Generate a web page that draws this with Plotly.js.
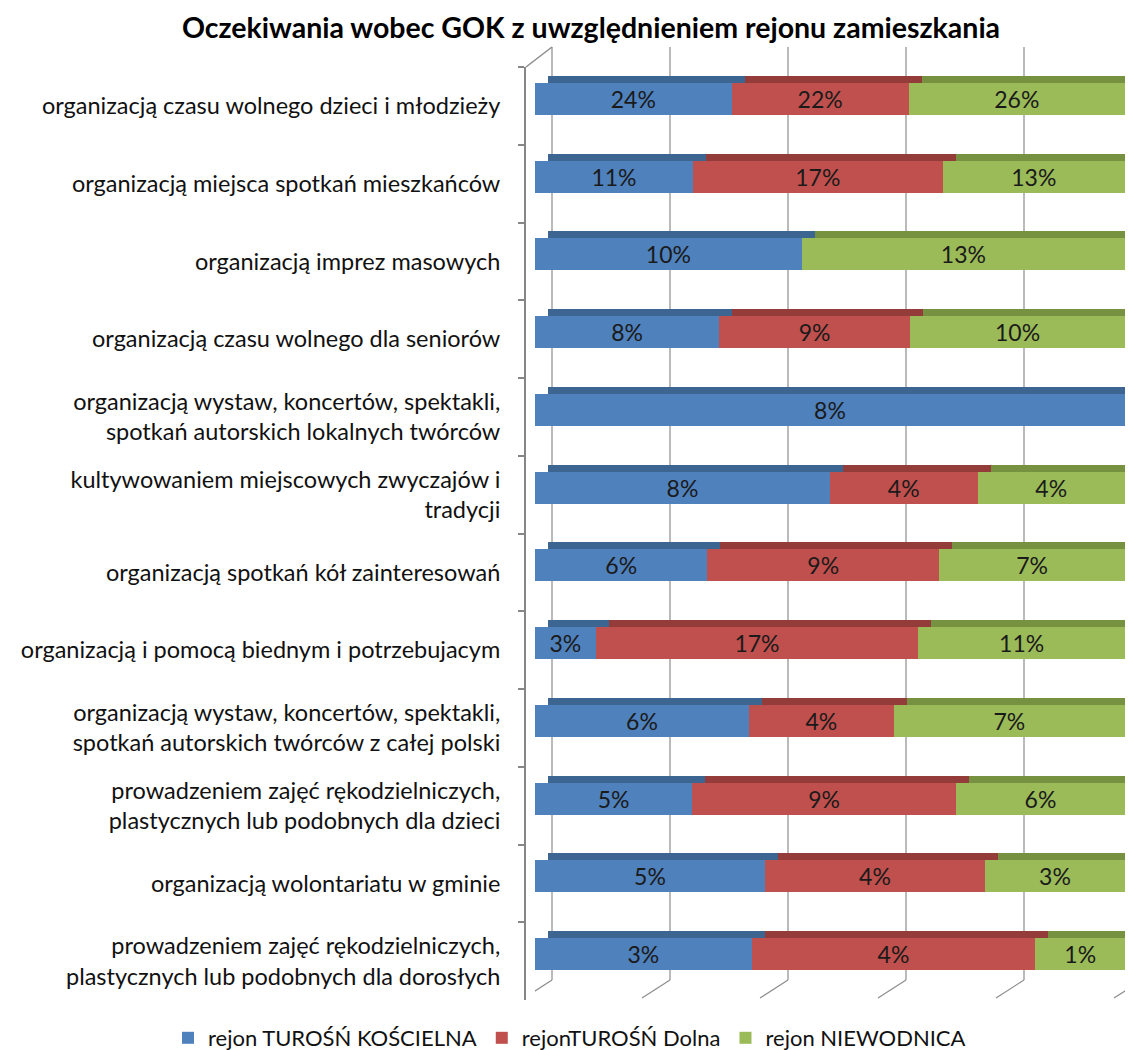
<!DOCTYPE html>
<html>
<head>
<meta charset="utf-8">
<script src="https://cdn.plot.ly/plotly-3.0.1.min.js"></script>
<style>html,body{margin:0;padding:0;background:#fff;overflow:hidden;}</style>
</head>
<body>
<div id="chart" style="width:1130px;height:1050px;"></div>
<script>
const categories = [
  "organizacją czasu wolnego dzieci i młodzieży",
  "organizacją miejsca spotkań mieszkańców",
  "organizacją imprez masowych",
  "organizacją czasu wolnego dla seniorów",
  "organizacją wystaw, koncertów, spektakli,<br>spotkań autorskich lokalnych twórców",
  "kultywowaniem miejscowych zwyczajów i<br>tradycji",
  "organizacją spotkań kół zainteresowań",
  "organizacją i pomocą biednym i potrzebujacym",
  "organizacją wystaw, koncertów, spektakli,<br>spotkań autorskich twórców z całej polski",
  "prowadzeniem zajęć rękodzielniczych,<br>plastycznych lub podobnych dla dzieci",
  "organizacją wolontariatu w gminie",
  "prowadzeniem zajęć rękodzielniczych,<br>plastycznych lub podobnych dla dorosłych"
];
const seriesNames = ["rejon TUROŚŃ KOŚCIELNA", "rejonTUROŚŃ Dolna", "rejon NIEWODNICA"];
const turosnKoscielna = [24, 11, 10.4, 8.4, 8, 8, 6.4, 3.2, 6.2, 5.3, 4.6, 2.9];
const turosnDolna     = [21.6, 17.4, 0, 8.7, 0, 4, 8.6, 17, 4.2, 8.9, 4.4, 3.8];
const niewodnica      = [26.4, 12.7, 12.6, 9.8, 0, 4, 6.9, 10.9, 6.7, 5.7, 2.8, 1.2];
const frontColors = ["#4F81BD", "#C0504D", "#9BBB59"];
const depthColors = ["#3D6592", "#943C3A", "#76913F"];
const gridTicks = [0, 20, 40, 60, 80, 100];

// geometry (pixels)
const W = 1130, H = 1050;
const mL = 525, mR = 5, mT = 67, mB = 50;
const plotW = W - mL - mR;          // 600
const plotH = H - mT - mB;          // 933
const barLeftPx = 535;
const barAreaW = 1125 - barLeftPx;  // 590
const unitX = barAreaW / 100;       // px per percent
const rowPx = plotH / categories.length;
const barThick = 32 / rowPx;
const frontOffset = -barThick / 2 - 7 / rowPx;
const depthOffset = -barThick / 2 - 14 / rowPx;
const depthShift = 13 / unitX;

const allSeries = [turosnKoscielna, turosnDolna, niewodnica];
const traces = [];
// depth (3D top faces) on main x axis, shifted right/up
allSeries.forEach((vals, i) => {
  traces.push({
    type: "bar", orientation: "h", y: categories, x: vals,
    xaxis: "x", yaxis: "y",
    width: barThick, offset: depthOffset,
    marker: {color: depthColors[i], line: {width: 0}},
    showlegend: false, hoverinfo: "skip", cliponaxis: false
  });
});
// front faces
allSeries.forEach((vals, i) => {
  traces.push({
    type: "bar", orientation: "h", y: categories, x: vals,
    xaxis: "x2", yaxis: "y", name: seriesNames[i],
    width: barThick, offset: frontOffset,
    marker: {color: frontColors[i], line: {width: 0}},
    text: vals.map(v => v > 0 ? Math.round(v) + "%" : ""),
    textposition: "inside", insidetextanchor: "middle",
    constraintext: "none",
    textfont: {family: "Lato, sans-serif", size: 23, color: "#1a1a1a"},
    hoverinfo: "name+text"
  });
});

const pyToPaper = py => (H - mB - py) / plotH;
const pxToPaper = px => (px - mL) / plotW;
const shapes = [];
const gridColor = "#8c8c8c";
gridTicks.forEach(t => {
  const xb = t + 17 / unitX;
  shapes.push({type: "line", layer: "below", xref: "x2", yref: "paper",
    x0: xb, x1: xb, y0: pyToPaper(47), y1: pyToPaper(980),
    line: {color: gridColor, width: 1.2}});
  shapes.push({type: "line", layer: "below", xref: "x2", yref: "paper",
    x0: xb, x1: xb - 28 / unitX, y0: pyToPaper(980), y1: pyToPaper(998),
    line: {color: gridColor, width: 1.2}});
});
// top edge of left wall
shapes.push({type: "line", layer: "below", xref: "paper", yref: "paper",
  x0: pxToPaper(526), x1: pxToPaper(552), y0: pyToPaper(67), y1: pyToPaper(47),
  line: {color: gridColor, width: 1.5}});

const layout = {
  width: W, height: H,
  margin: {l: mL, r: mR, t: mT, b: mB, autoexpand: false},
  paper_bgcolor: "#ffffff", plot_bgcolor: "rgba(0,0,0,0)",
  barmode: "stack", barnorm: "percent",
  font: {family: "Lato, sans-serif", color: "#000"},
  title: {text: "<b>Oczekiwania wobec GOK z uwzględnieniem rejonu zamieszkania</b>",
    x: 591 / W, xanchor: "center", y: 1 - 28 / H, yanchor: "middle",
    font: {family: "Lato, sans-serif", size: 28.5, color: "#000"}},
  xaxis: {domain: [(barLeftPx - mL) / plotW, 1], range: [-depthShift, 100 - depthShift],
    visible: false, fixedrange: true},
  xaxis2: {overlaying: "x", anchor: "y", range: [0, 100], visible: false, fixedrange: true},
  yaxis: {type: "category", categoryorder: "array", categoryarray: categories,
    range: [categories.length - 0.5, -0.5],
    anchor: "free", position: 0,
    showline: true, linecolor: "#868686", linewidth: 2,
    ticks: "outside", tickson: "boundaries", ticklen: 6, tickcolor: "#868686", tickwidth: 2,
    ticklabelstandoff: 19,
    tickfont: {family: "Lato, sans-serif", size: 23.5, color: "#111"},
    showgrid: false, zeroline: false, fixedrange: true},
  legend: {orientation: "h", xref: "paper", yref: "paper",
    x: pxToPaper(168), xanchor: "left", y: pyToPaper(1038), yanchor: "middle",
    font: {family: "Lato, sans-serif", size: 22, color: "#111"},
    traceorder: "normal"},
  shapes: shapes,
  showlegend: true
};

Plotly.newPlot("chart", traces, layout, {displayModeBar: false, staticPlot: true});
</script>
</body>
</html>
